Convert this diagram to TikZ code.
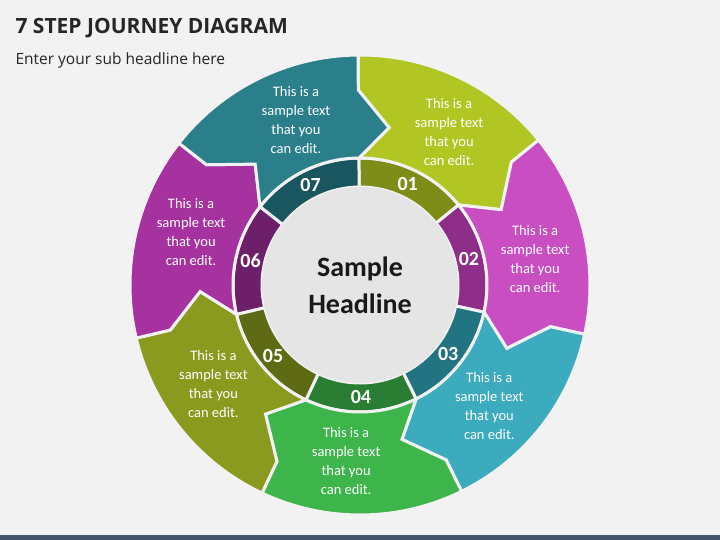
\documentclass[tikz,border=0pt]{standalone}
\usepackage{fontspec}
\setmainfont{Carlito}
\newfontfamily\titlefont{Open Sans}
\definecolor{bg}{HTML}{F2F2F2}
\definecolor{barc}{HTML}{44546A}
\definecolor{cA}{HTML}{B2C623}\definecolor{dA}{HTML}{7E8D18}
\definecolor{cB}{HTML}{C84EC2}\definecolor{dB}{HTML}{8E2E8A}
\definecolor{cC}{HTML}{3CABBD}\definecolor{dC}{HTML}{237483}
\definecolor{cD}{HTML}{3DB54B}\definecolor{dD}{HTML}{2A7E33}
\definecolor{cE}{HTML}{8A9A1F}\definecolor{dE}{HTML}{5F6B14}
\definecolor{cF}{HTML}{A5329F}\definecolor{dF}{HTML}{6E1F6A}
\definecolor{cG}{HTML}{2A7F8B}\definecolor{dG}{HTML}{1A5660}
\tikzset{
 segtext/.style={text=white,font=\fontsize{14.5}{19}\selectfont,align=center},
 numtext/.style={text=white,font=\bfseries\fontsize{20}{22}\selectfont},
 sep/.style={draw=bg,line width=3pt}
}
\begin{document}
\begin{tikzpicture}[x=1pt,y=1pt]
\fill[bg] (0,0) rectangle (720,540);
\useasboundingbox (0,0) rectangle (720,540);
\fill[barc] (0,0) rectangle (720,5);
\node[anchor=west,font=\titlefont\bfseries\fontsize{21}{24}\selectfont,text=black!85] (title) at (12,512) {7 STEP JOURNEY DIAGRAM};
\node[anchor=west,font=\titlefont\fontsize{15.5}{18}\selectfont,text=black!85] (sub) at (12,480) {Enter your sub headline here};
\begin{scope}[shift={(360,255)}]
\foreach \k/\c/\d in {1/cA/dA,2/cB/dB,3/cC/dC,4/cD/dD,5/cE/dE,6/cF/dF,7/cG/dG}{
  \pgfmathsetmacro{\b}{90.5-(\k-1)*51.4286}
  \pgfmathsetmacro{\e}{\b-51.4286}
  \pgfmathsetmacro{\m}{\b-25.7143}
  \fill[\d,sep] (\b:98) -- (\b:127) arc[start angle=\b,end angle=\e,radius=127] -- (\e:98) arc[start angle=\e,end angle=\b,radius=98] -- cycle;
}
\foreach \k/\c/\d in {1/cA/dA,2/cB/dB,3/cC/dC,4/cD/dD,5/cE/dE,6/cF/dF,7/cG/dG}{
  \pgfmathsetmacro{\b}{90.5-(\k-1)*51.4286}
  \pgfmathsetmacro{\e}{\b-51.4286}
  \pgfmathsetmacro{\m}{\b-25.7143}
  \fill[\c,sep] (\b:230) arc[start angle=\b,end angle=\e,radius=230] -- (\e:195) -- (\e-11:160) -- (\e:127) arc[start angle=\e,end angle=\b,radius=127] -- (\b-11:160) -- (\b:195) -- cycle;
  \node[segtext] (t\k) at (\m-5:177) {This is a\\sample text\\that you\\can edit.};
  \node[numtext] (n\k) at (\m:112) {0\k};
}
\fill[black!10] (0,0) circle (98);
\node[font=\bfseries\fontsize{28}{37}\selectfont,align=center,text=black!90] (head) at (0,0) {Sample\\Headline};
\end{scope}
\end{tikzpicture}
\end{document}
